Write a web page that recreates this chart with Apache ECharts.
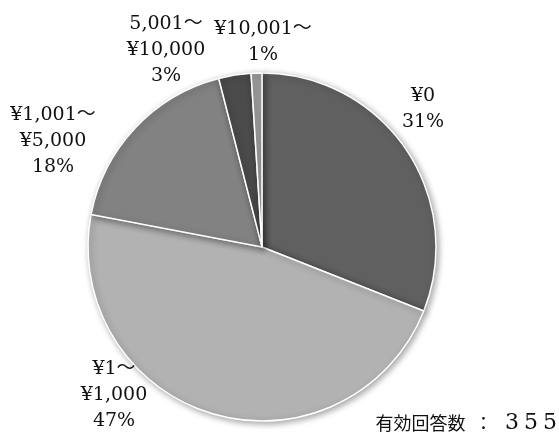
<!DOCTYPE html>
<html>
<head>
<meta charset="utf-8">
<script src="https://cdn.jsdelivr.net/npm/echarts@6/dist/echarts.min.js"></script>
<style>
  html, body { margin: 0; padding: 0; background: #fff; }
  #chart { width: 559px; height: 442px; }
</style>
</head>
<body>
<div id="chart"></div>
<script>
// Spending brackets and their share of responses (%)
const categories = ['¥0', '¥1～\n¥1,000', '¥1,001～\n¥5,000', '5,001～\n¥10,000', '¥10,001～'];
const shares = [31, 47, 18, 3, 1];
const responseCount = 355;

const sliceColors = ['#606060', '#b2b2b2', '#828282', '#4b4b4b', '#9c9c9c'];
// label anchor points (centre of each text block)
const labelSpots = [[423, 109], [114, 395], [53, 141], [166, 50], [263, 42]];

// wide-set digits for the response count
const countText = String(responseCount).split('').map(d => '{b|' + d + '}').join('');

const chart = echarts.init(document.getElementById('chart'));
chart.setOption({
  animation: false,
  backgroundColor: '#ffffff',
  series: [{
    type: 'pie',
    center: [262, 247],
    radius: 174,
    startAngle: 90,
    clockwise: true,
    data: categories.map((name, i) => ({
      name: name,
      value: shares[i],
      itemStyle: { color: sliceColors[i] }
    })),
    itemStyle: {
      borderColor: '#ffffff',
      borderWidth: 1.5,
      shadowBlur: 6,
      shadowOffsetX: 2,
      shadowOffsetY: 2,
      shadowColor: 'rgba(0,0,0,0.35)'
    },
    label: {
      show: true,
      position: 'outside',
      alignTo: 'none',
      overflow: 'none',
      formatter: p => p.name + '\n' + p.value + '%',
      fontFamily: '"DejaVu Serif", "Noto Sans CJK JP", serif',
      fontSize: 19,
      lineHeight: 26,
      color: '#111',
      align: 'center'
    },
    labelLine: { show: false },
    labelLayout: p => ({
      x: labelSpots[p.dataIndex][0],
      y: labelSpots[p.dataIndex][1],
      align: 'center',
      verticalAlign: 'middle',
      hideOverlap: false,
      moveOverlap: null
    }),
    emphasis: { disabled: true }
  }],
  graphic: [{
    type: 'text',
    right: 2,
    bottom: 8,
    style: {
      text: '{a|有効回答数}{c|：}' + countText,
      rich: {
        a: { fontFamily: '"Noto Sans CJK JP", sans-serif', fontSize: 18, fill: '#111' },
        c: { fontFamily: '"Noto Sans CJK JP", sans-serif', fontSize: 18, fill: '#111', padding: [0, 10, 0, 9] },
        b: { fontFamily: '"DejaVu Serif", serif', fontSize: 22, fill: '#111', padding: [0, 2.5, 0, 2.5] }
      }
    }
  }]
});
</script>
</body>
</html>
